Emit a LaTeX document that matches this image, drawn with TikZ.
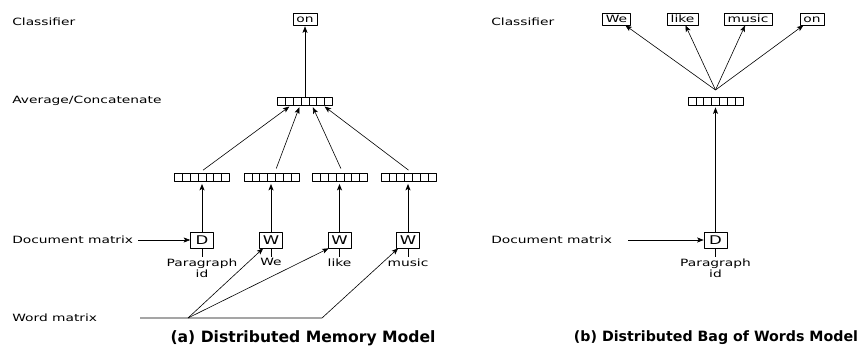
\documentclass[tikz,border=0pt]{standalone}
\usepackage{fontspec}
\setmainfont[FakeStretch=1.38]{DejaVu Sans}
\newfontfamily\capfont{DejaVu Sans}
\usetikzlibrary{positioning,arrows.meta}
\begin{document}
\begin{tikzpicture}[x=1pt,y=-1pt,font=\fontsize{10}{11}\selectfont, line join=round, line width=0.6pt,
	>={Stealth[length=6.5pt,width=5pt,inset=1.5pt]},
	lbl/.style={anchor=west, inner sep=0pt},
	wlbl/.style={align=center, inner sep=1pt},
	upar/.style={->, line width=1pt, shorten >=2pt},
	clsbox/.style={draw, line width=0.6pt, inner xsep=3.5pt, inner ysep=1.5pt, text height=7.5pt, text depth=1.5pt},
	inbox/.style={draw, line width=0.6pt, font=\fontsize{12}{12}\selectfont, minimum width=23pt, minimum height=16pt, inner sep=1pt},
	embvec/.style={draw, line width=0.7pt, minimum width=55pt, minimum height=8pt, inner sep=0pt,
		path picture={\foreach \k in {1,...,6} \draw[line width=0.7pt] ([xshift=\k*\cell]path picture bounding box.south west) -- ([xshift=\k*\cell]path picture bounding box.north west);}},
	captxt/.style={font=\capfont\bfseries\fontsize{#1}{#1}\selectfont}]
	\def\cell{7.857}
	\useasboundingbox (0,0) rectangle (859,348);
	% (a) distributed memory
	\node[lbl] (clsA) at (12,22) {Classifier};
	\node[lbl] (avgA) at (12,101) {Average/Concatenate};
	\node[lbl] (docA) at (12,240) {Document matrix};
	\node[lbl] (wrdA) at (12,318) {Word matrix};
	\node[clsbox] (onA) at (305,19) {on};
	\node[embvec] (meanA) at (305,101) {};
	\node[embvec] (v1) at (202,177.5) {};
	\node[embvec] (v2) at (271.5,177.5) {};
	\node[embvec] (v3) at (340,177.5) {};
	\node[embvec] (v4) at (408.5,177.5) {};
	\node[inbox] (d1) at (202,240) {D};
	\node[inbox] (w1) at (271,240) {W};
	\node[inbox] (w2) at (339.5,240) {W};
	\node[inbox] (w3) at (408,240) {W};
	\node[wlbl, below=9pt of d1] (p1) {Paragraph\\id};
	\node[wlbl, below=9pt of w1] (t1) {We};
	\node[wlbl, below=9pt of w2] (t2) {like};
	\node[wlbl, below=9pt of w3] (t3) {music};
	\foreach \b/\t in {d1/p1,w1/t1,w2/t2,w3/t3} \draw (\b) -- (\t.north);
	\foreach \b/\v in {d1/v1,w1/v2,w2/v3,w3/v4} \draw[upar] (\b.north) -- (\b.north |- \v.south);
	\draw[->, shorten >=1pt] (meanA.north) -- (meanA.north |- onA.south);
	\draw[->, shorten <=5pt, shorten >=2pt] ([xshift=-3]v1.north) -- ([xshift=-14]meanA.south);
	\draw[->, shorten <=5pt, shorten >=2pt] ([xshift=3]v2.north) -- ([xshift=-5]meanA.south);
	\draw[->, shorten <=5pt, shorten >=2pt] ([xshift=3]v3.north) -- ([xshift=7]meanA.south);
	\draw[->, shorten <=5pt, shorten >=2pt] ([xshift=4]v4.north) -- ([xshift=18]meanA.south);
	\draw[->] ([xshift=5]docA.east) -- (d1.west);
	\coordinate (wa) at (140,318);
	\coordinate (wb) at (188,318);
	\coordinate (wc) at (322,318);
	\draw[->] (wa) -- (wc) -- ([xshift=2]w3.south west);
	\draw[->] (wb) -- ([xshift=4]w1.south west);
	\draw[->] (wb) -- ([xshift=1]w2.south west);
	\node[captxt=15.6] (capA) at (303,338) {(a) Distributed Memory Model};
	% (b) distributed bag of words
	\node[lbl] (clsB) at (491,22) {Classifier};
	\node[lbl] (docB) at (491,240) {Document matrix};
	\node[clsbox] (we) at (616.5,19) {We};
	\node[clsbox] (like) at (682.5,19) {like};
	\node[clsbox] (music) at (748,19) {music};
	\node[clsbox] (onB) at (812,19) {on};
	\coordinate (fan) at (715.5,90);
	\node[embvec] (meanB) at (715.5,101) {};
	\node[inbox] (dB) at (715.5,240) {D};
	\node[wlbl, below=9pt of dB] (pB) {Paragraph\\id};
	\draw (dB) -- (pB.north);
	\draw[upar] (dB.north) -- (meanB.south);
	\draw[->] ([xshift=16]docB.east) -- (dB.west);
	\foreach \n in {we,like,music,onB} \draw[->] (fan) -- (\n);
	\node[captxt=14.2] (capB) at (716,338) {(b) Distributed Bag of Words Model};
\end{tikzpicture}
\end{document}
